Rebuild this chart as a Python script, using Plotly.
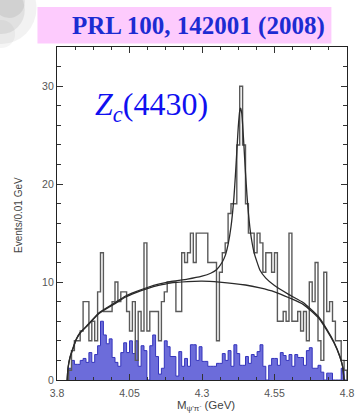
import numpy as np
import plotly.graph_objects as go

# ---------------- data ----------------
BIN_START = 3.84   # GeV, left edge of first bin
BIN_WIDTH = 0.01   # GeV

# total events per 0.01 GeV bin (black open histogram)
data_counts = [1, 3, 4, 4, 5, 8, 8, 4, 6, 4,
               9, 13, 7, 7, 7, 8, 10, 8, 9, 9,
               7, 5, 8, 2, 7, 5, 14, 5, 7, 7,
               7, 4, 8, 9, 10, 10, 10, 7, 7, 13,
               12, 13, 15, 12, 15, 15, 15, 15, 12, 12,
               12, 4, 11, 13, 14, 17, 18, 18, 24, 30,
               24, 18, 15, 15, 13, 15, 14, 11, 13, 13,
               11, 13, 6, 6, 7, 6, 15, 6, 6, 7,
               5, 7, 4, 10, 8, 12, 4, 2, 11, 7,
               8, 6, 4, 4, 2, 1]

# sideband background per bin (blue filled histogram)
bkg_counts = [1.2, 2, 1.6, 1.6, 2, 2.2, 1.8, 2.8, 1.8, 2.6,
              3.5, 6, 4.6, 3.7, 4.2, 2.3, 1.8, 1.4, 2.8, 3.8,
              2.8, 4, 2.7, 4, 1.4, 3.5, 3, 0, 3.5, 4.6,
              2.4, 0.6, 1.2, 4, 3.4, 2.4, 2.4, 0.4, 2.9, 1.4,
              2.2, 1.4, 3.6, 3.6, 2, 3.4, 1.9, 1.9, 1.4, 1.4,
              1.4, 1.7, 1.7, 2.7, 2, 3, 1.4, 3.6, 2.7, 1.5,
              1.5, 2.4, 1.7, 2.6, 2.4, 2.9, 3.6, 1.4, 0, 1.5,
              2.2, 2.2, 1.5, 2.8, 2.5, 2, 2.6, 1.4, 2.6, 2.3,
              2.3, 1.5, 3, 3.3, 1.2, 1.2, 1.5, 0.8, 0, 0.7,
              0.7, 0, 0, 0, 1.2, 0]

# fitted background curve
bg_fit_x = [3.835, 3.838, 3.845, 3.855, 3.866, 3.88, 3.9, 3.945, 4.0, 4.035,
            4.07, 4.114, 4.15, 4.19, 4.25, 4.3, 4.36, 4.45, 4.5, 4.55,
            4.6, 4.65, 4.7, 4.73, 4.755, 4.775, 4.785, 4.79]
bg_fit_y = [0, 1.2, 2.3, 3.2, 4.1, 4.8, 5.4, 6.8, 7.8, 8.45,
            8.9, 9.35, 9.65, 9.9, 10.05, 10.1, 10.0, 9.7, 9.4, 9.0,
            8.4, 7.7, 6.4, 5.1, 3.8, 2.4, 1.35, 0]

# fitted total (signal + background) curve
tot_fit_x = [3.835, 3.838, 3.845, 3.855, 3.866, 3.88, 3.9, 3.945, 4.0, 4.035,
             4.07, 4.114, 4.15, 4.19, 4.25, 4.3, 4.33, 4.35, 4.37, 4.38,
             4.39, 4.4, 4.41, 4.415, 4.42, 4.425, 4.43, 4.433, 4.437, 4.44,
             4.445, 4.45, 4.455, 4.46, 4.465, 4.47, 4.48, 4.5, 4.52, 4.55,
             4.6, 4.65, 4.7, 4.73, 4.755, 4.775, 4.785, 4.79]
tot_fit_y = [0, 1.25, 2.35, 3.25, 4.15, 4.85, 5.45, 6.87, 7.9, 8.55,
             9.0, 9.47, 9.79, 10.05, 10.3, 10.6, 10.9, 11.25, 12.05, 12.7,
             13.85, 15.65, 18.6, 20.8, 23.3, 25.8, 27.45, 27.75, 27.25, 26.15,
             23.7, 21.15, 18.9, 17.05, 15.6, 14.5, 12.95, 11.2, 10.4, 9.64,
             8.72, 7.89, 6.53, 5.2, 3.88, 2.45, 1.38, 0]

x_tick_vals = [3.8, 4.05, 4.3, 4.55, 4.8]
x_tick_text = ["3.8", "4.05", "4.3", "4.55", "4.8"]
y_tick_vals = [0, 10, 20, 30]

TITLE = "PRL 100, 142001 (2008)"
LABEL = "<i>Z</i><sub><i>c</i></sub>(4430)"
X_TITLE = "M<sub>\u03c8'\u03c0<sup>-</sup></sub> (GeV)"
Y_TITLE = "Events/0.01 GeV"

# ---------------- build step outlines ----------------
n = len(data_counts)
edges = BIN_START + BIN_WIDTH * np.arange(n + 1)


def step_xy(counts):
    xs = np.concatenate([[edges[0]], edges[:-1], [edges[-1]]])
    ys = np.concatenate([[0], np.asarray(counts, dtype=float), [0]])
    return xs, ys


bx, by = step_xy(bkg_counts)
dx, dy = step_xy(data_counts)

fig = go.Figure()
fig.add_trace(go.Scatter(x=bx, y=by, mode="lines", line_shape="hv",
                         line=dict(color="#3434bc", width=1),
                         fill="tozeroy", fillcolor="#6c6cda",
                         hoverinfo="skip"))
fig.add_trace(go.Scatter(x=dx, y=dy, mode="lines", line_shape="hv",
                         line=dict(color="#5a5a5a", width=1.4),
                         hoverinfo="skip"))
fig.add_trace(go.Scatter(x=bg_fit_x, y=bg_fit_y, mode="lines",
                         line=dict(color="#2a2a2a", width=1.3, shape="spline", smoothing=0.6),
                         hoverinfo="skip"))
fig.add_trace(go.Scatter(x=tot_fit_x, y=tot_fit_y, mode="lines",
                         line=dict(color="#2a2a2a", width=1.3, shape="spline", smoothing=0.4),
                         hoverinfo="skip"))

W, H = 358, 415
L, R, T, B = 57, 4, 47, 35
PW, PH = W - L - R, H - T - B


def px(xp):
    return (xp - L) / PW


def py(yp):
    return (H - B - yp) / PH


shapes = []
# soft grey shading in the top-left corner of the screenshot
for (cx, cy, r, op) in [(0, 8, 36, 0.10), (0, 10, 24, 0.14), (8, 2, 16, 0.16), (0, 34, 14, 0.08)]:
    shapes.append(dict(type="circle", xref="paper", yref="paper",
                       x0=px(cx - r), x1=px(cx + r), y0=py(cy + r), y1=py(cy - r),
                       fillcolor="#808080", opacity=op, line=dict(width=0), layer="below"))
# pink title box
shapes.append(dict(type="rect", xref="paper", yref="paper",
                   x0=px(37), x1=px(338), y0=py(43.5), y1=py(7),
                   fillcolor="#fdcbfd", line=dict(width=0), layer="above"))

annotations = [
    dict(text="<b>" + TITLE + "</b>", xref="paper", yref="paper",
         x=px(202), y=py(25.5), xanchor="center", yanchor="middle", showarrow=False,
         font=dict(family="Liberation Serif", size=25, color="#1c2cd2")),
    dict(text=LABEL, xref="paper", yref="paper",
         x=px(154), y=py(106), xanchor="center", yanchor="middle", showarrow=False,
         font=dict(family="Liberation Serif", size=32, color="#1010f0")),
    dict(text=Y_TITLE, xref="paper", yref="paper", textangle=-90,
         x=px(18), y=py(215), xanchor="center", yanchor="middle", showarrow=False,
         font=dict(family="Liberation Sans", size=10, color="#444444")),
    dict(text=X_TITLE, xref="paper", yref="paper",
         x=px(210), y=py(406), xanchor="center", yanchor="middle", showarrow=False,
         font=dict(family="Liberation Sans", size=11.5, color="#444444")),
]

fig.update_layout(
    width=W, height=H,
    margin=dict(l=L, r=R, t=T, b=B, pad=0),
    paper_bgcolor="white", plot_bgcolor="white",
    showlegend=False,
    shapes=shapes, annotations=annotations,
    xaxis=dict(range=[3.8, 4.8], tickmode="array", tickvals=x_tick_vals, ticktext=x_tick_text,
               ticks="inside", ticklen=6, tickwidth=1, tickcolor="#333333",
               showline=True, linecolor="#222222", linewidth=1.2, mirror="allticks",
               showgrid=False, zeroline=False, ticklabeloverflow="allow", ticklabelstandoff=3,
               minor=dict(tick0=3.8, dtick=0.0625, ticks="inside", ticklen=3, tickcolor="#333333"),
               tickfont=dict(family="Liberation Sans", size=10.5, color="#555555")),
    yaxis=dict(range=[0, 34], tickmode="array", tickvals=y_tick_vals,
               ticks="inside", ticklen=6, tickwidth=1, tickcolor="#333333",
               showline=True, linecolor="#222222", linewidth=1.2, mirror="allticks",
               showgrid=False, zeroline=False,
               minor=dict(tick0=0, dtick=2, ticks="inside", ticklen=4, tickcolor="#333333"),
               tickfont=dict(family="Liberation Sans", size=10.5, color="#555555")),
)

fig.write_html("out.html")
